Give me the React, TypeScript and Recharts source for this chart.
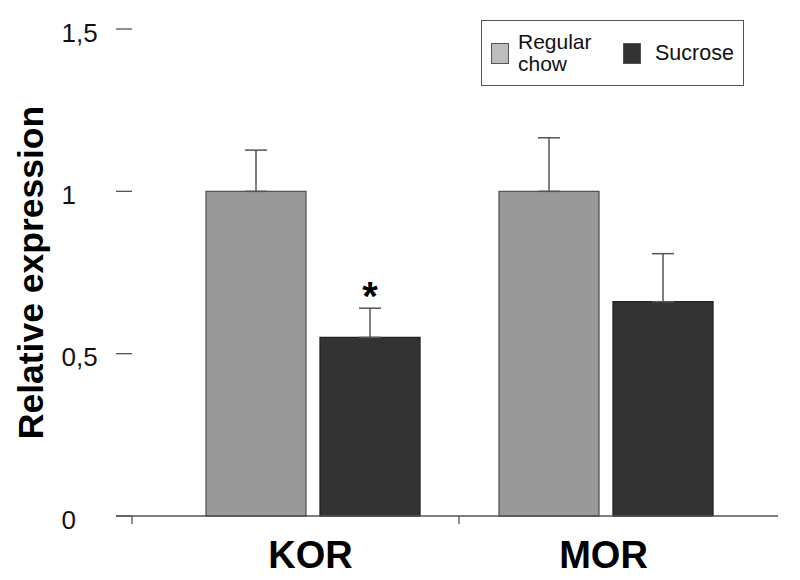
import React from "react";
import { BarChart, Bar, XAxis, YAxis, ErrorBar, LabelList } from "recharts";

const categories = ["KOR", "MOR"];
const regularChow = [1.0, 1.0];
const regularChowErr = [0.127, 0.165];
const sucrose = [0.55, 0.66];
const sucroseErr = [0.09, 0.148];
const significance = ["*", ""];
const yTicks = [0, 0.5, 1, 1.5];
const seriesNames = ["Regular chow", "Sucrose"];
const seriesKeys = ["regular", "sucrose"];

const data = categories.map((c, i) => ({
  name: c,
  regular: regularChow[i],
  regularErr: [0, regularChowErr[i]],
  sucrose: sucrose[i],
  sucroseErr: [0, sucroseErr[i]],
  sig: significance[i],
}));

const FONT = '"Liberation Sans", Arial, Helvetica, sans-serif';
const legendSwatch: Record<string, string> = { regular: "#bdbdbd", sucrose: "#333333" };

const YTick = (props: any) => {
  const { x, y, payload } = props;
  return (
    <g>
      <line x1={x} y1={y} x2={x + 16} y2={y} stroke="#555" strokeWidth={1.3} />
      {payload.value === 0 && (
        <line x1={x + 16} y1={y} x2={x + 16} y2={y + 8} stroke="#555" strokeWidth={1.3} />
      )}
      <text x={x - 54.5} y={y + 12.5} textAnchor="start" fontSize={26} fontFamily={FONT} fill="#111">
        {String(payload.value).replace(".", ",")}
      </text>
    </g>
  );
};

const XTick = (props: any) => {
  const { x, y, payload, index } = props;
  const off = payload.offset || 0;
  return (
    <g>
      {index > 0 && (
        <line x1={x - off} y1={y} x2={x - off} y2={y + 8} stroke="#555" strokeWidth={1.3} />
      )}
      <text x={x - 2} y={y + 52} textAnchor="middle" fontSize={38} fontWeight="bold" fontFamily={FONT} fill="#000">
        {payload.value}
      </text>
    </g>
  );
};

const YLabel = (props: any) => {
  const vb = props.viewBox || {};
  const cx = (vb.x || 0) + 43;
  const cy = (vb.y || 0) + (vb.height || 0) / 2;
  return (
    <text
      x={cx}
      y={cy}
      transform={`rotate(-90, ${cx}, ${cy})`}
      textAnchor="middle"
      fontSize={35.5}
      fontWeight="bold"
      fontFamily={FONT}
      fill="#000"
    >
      Relative expression
    </text>
  );
};

const LegendBox = () => (
  <div
    style={{
      position: "absolute",
      left: 481,
      top: 20,
      width: 263,
      height: 66,
      boxSizing: "border-box",
      border: "1.5px solid #555",
      background: "#fff",
      display: "flex",
      alignItems: "center",
      paddingLeft: 9,
      fontFamily: FONT,
      fontSize: 21,
      color: "#111",
    }}
  >
    {seriesNames.map((name, i) => (
      <div key={i} style={{ display: "flex", alignItems: "center", marginLeft: i === 0 ? 0 : 23 }}>
        <div
          style={{
            width: 18,
            height: 21,
            boxSizing: "border-box",
            background: legendSwatch[seriesKeys[i]],
            border: "1.5px solid #555",
            marginRight: i === 0 ? 9 : 14,
            flexShrink: 0,
          }}
        />
        <div style={{ width: 82, lineHeight: "22px", fontSize: i === 0 ? 21 : 21.5 }}>{name}</div>
      </div>
    ))}
  </div>
);

const Asterisk = (props: any) => {
  const { x, y, width, value } = props;
  if (!value) return null;
  return (
    <text x={x + width / 2} y={y - 27} textAnchor="middle" fontSize={40} fontWeight="bold" fontFamily={FONT} fill="#000">
      {value}
    </text>
  );
};

export default function App() {
  return (
    <div style={{ position: "absolute", left: 0, top: 0, width: 800, height: 580, background: "#fff" }}>
      <BarChart
        width={800}
        height={580}
        data={data}
        margin={{ top: 29, right: 22, bottom: 0, left: 0 }}
        barSize={100}
        barGap={14}
      >
        <XAxis
          dataKey="name"
          height={64}
          padding={{ left: 50, right: 26 }}
          tickLine={false}
          tickSize={0}
          tickMargin={0}
          axisLine={{ stroke: "#555", strokeWidth: 1.3 }}
          tick={<XTick />}
          interval={0}
        />
        <YAxis
          width={116}
          domain={[0, 1.5]}
          ticks={yTicks}
          axisLine={false}
          tickLine={false}
          tickSize={0}
          tickMargin={0}
          tick={<YTick />}
          label={<YLabel />}
        />
        <Bar dataKey={seriesKeys[0]} name={seriesNames[0]} fill="#999999" stroke="#555" strokeWidth={1.3} isAnimationActive={false}>
          <ErrorBar dataKey="regularErr" width={11} stroke="#555" strokeWidth={1.5} direction="y" />
        </Bar>
        <Bar dataKey={seriesKeys[1]} name={seriesNames[1]} fill="#333333" stroke="#222" strokeWidth={1.3} isAnimationActive={false}>
          <ErrorBar dataKey="sucroseErr" width={11} stroke="#555" strokeWidth={1.5} direction="y" />
          <LabelList dataKey="sig" content={<Asterisk />} />
        </Bar>
      </BarChart>
      <LegendBox />
    </div>
  );
}
